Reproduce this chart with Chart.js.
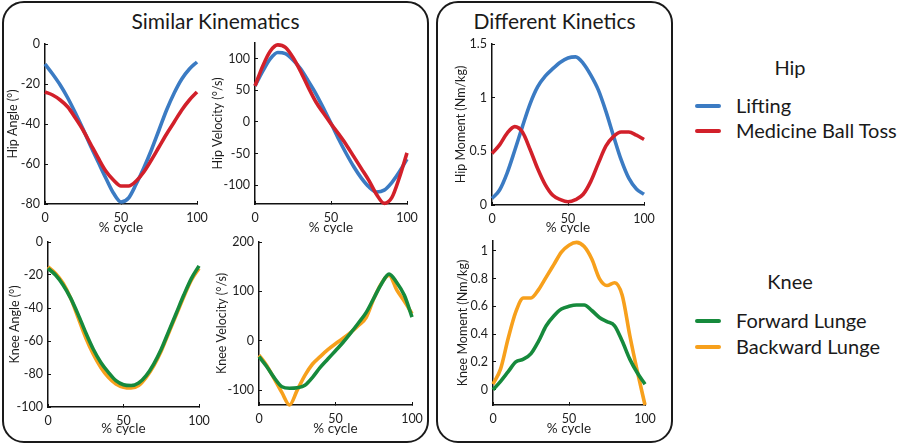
<!DOCTYPE html>
<html>
<head>
<meta charset="utf-8">
<script src="https://cdn.jsdelivr.net/npm/chart.js@4.4.0/dist/chart.umd.min.js"></script>
<style>
    body { margin: 0; width: 900px; height: 444px; position: relative; overflow: hidden; background: #fff; font-family: Lato, sans-serif; color: #1a1a1a; }
    .box { position: absolute; border: 2px solid #1a1a1a; border-radius: 22px; box-sizing: border-box; }
    .title { position: absolute; font-size: 21px; line-height: 26px; text-align: center; }
    canvas { position: absolute; }
    .leg-head { position: absolute; font-size: 20px; line-height: 24px; text-align: center; width: 120px; }
    .leg-line { position: absolute; width: 26px; height: 4px; border-radius: 2px; }
    .leg-text { position: absolute; font-size: 20px; line-height: 24px; white-space: nowrap; }
</style>
</head>
<body>

<div class="box" style="left:2px; top:1px; width:427px; height:442px;"></div>
<div class="box" style="left:436px; top:1px; width:237px; height:442px;"></div>
<div class="title" style="left:2px; top:8px; width:427px;">Similar Kinematics</div>
<div class="title" style="left:436px; top:8px; width:237px;">Different Kinetics</div>

<div class="leg-head" style="left:730px; top:55px;">Hip</div>
<div class="leg-line" id="leg-lifting" style="left:695px; top:104px;"></div>
<div class="leg-text" style="left:736px; top:93px;">Lifting</div>
<div class="leg-line" id="leg-toss" style="left:695px; top:129px;"></div>
<div class="leg-text" style="left:736px; top:118px;">Medicine Ball Toss</div>

<div class="leg-head" style="left:730px; top:269px;">Knee</div>
<div class="leg-line" id="leg-forward" style="left:695px; top:319px;"></div>
<div class="leg-text" style="left:736px; top:308px;">Forward Lunge</div>
<div class="leg-line" id="leg-backward" style="left:695px; top:345px;"></div>
<div class="leg-text" style="left:736px; top:334px;">Backward Lunge</div>

<canvas id="hip-angle"></canvas>
<canvas id="hip-velocity"></canvas>
<canvas id="knee-angle"></canvas>
<canvas id="knee-velocity"></canvas>
<canvas id="hip-moment"></canvas>
<canvas id="knee-moment"></canvas>

<script>
// % of the movement cycle, one sample every 5%
var pct = [0, 5, 10, 15, 20, 25, 30, 35, 40, 45, 50, 55, 60, 65, 70, 75, 80, 85, 90, 95, 100];
var xTicks = [0, 50, 100];

// hip - lifting vs medicine ball toss
var hipAngleLifting = [-10, -15, -20.5, -27, -34.5, -42.5, -51, -59, -67, -74.5, -79, -77, -70, -62, -53, -43, -33, -24.5, -17.5, -12.5, -9];
var hipAngleToss = [-24, -25.5, -28, -31.5, -37, -43, -50, -57, -63.5, -68, -71, -71, -68.5, -64, -58, -51.5, -45, -39, -33, -28, -24];
var hipVelLifting = [57, 80, 100, 110, 108, 98, 84, 65, 45, 22, -2, -27, -50, -71, -89, -103, -111, -108, -96, -79, -59];
var hipVelToss = [57, 88, 112, 122, 118, 102, 80, 55, 32, 14, -3, -19, -36, -55, -74, -93, -115, -129, -120, -88, -49];
var hipMomLifting = [0.06, 0.14, 0.3, 0.51, 0.73, 0.94, 1.1, 1.2, 1.27, 1.33, 1.37, 1.38, 1.32, 1.21, 1.07, 0.87, 0.64, 0.42, 0.25, 0.15, 0.1];
var hipMomToss = [0.48, 0.56, 0.67, 0.73, 0.68, 0.52, 0.34, 0.19, 0.09, 0.05, 0.03, 0.05, 0.1, 0.22, 0.39, 0.55, 0.64, 0.68, 0.68, 0.65, 0.61];

// knee - forward vs backward lunge
var kneeAngleForward = [-16, -20, -26, -34, -44, -55, -65, -73, -79, -84, -86.5, -87, -85.5, -81, -74, -65, -54, -43, -32, -22, -14.5];
var kneeAngleBackward = [-15, -19, -25, -34, -46, -58, -68, -76, -82, -86, -88, -88.5, -87, -82, -75, -66, -55, -44, -33, -23, -16];
var kneeVelForward = [-32, -52, -75, -93, -96, -95, -90, -74, -54, -37, -20, -3, 16, 36, 57, 86, 115, 135, 118, 92, 48];
var kneeVelBackward = [-29, -50, -77, -105, -130, -100, -70, -47, -32, -18, -6, 5, 17, 31, 47, 85, 116, 133, 103, 80, 55];
var kneeMomForward = [0, 0.06, 0.13, 0.2, 0.22, 0.26, 0.35, 0.46, 0.53, 0.58, 0.6, 0.61, 0.61, 0.57, 0.52, 0.49, 0.46, 0.35, 0.22, 0.12, 0.04];
var kneeMomBackward = [0.04, 0.15, 0.37, 0.56, 0.66, 0.66, 0.72, 0.81, 0.9, 0.99, 1.04, 1.06, 1.03, 0.94, 0.8, 0.75, 0.77, 0.68, 0.39, 0.13, -0.11];

// y tick labels
var hipAngleTicks = [-80, -60, -40, -20, 0];
var hipVelTicks = [-100, -50, 0, 50, 100];
var hipMomTicks = [0, 0.5, 1, 1.5];
var kneeAngleTicks = [-100, -80, -60, -40, -20, 0];
var kneeVelTicks = [-100, 0, 100, 200];
var kneeMomTicks = [0, 0.2, 0.4, 0.6, 0.8, 1];

var BLUE = '#3b7bc3';
var RED = '#d2202a';
var GREEN = '#168a3c';
var ORANGE = '#f7a01c';

document.getElementById('leg-lifting').style.background = BLUE;
document.getElementById('leg-toss').style.background = RED;
document.getElementById('leg-forward').style.background = GREEN;
document.getElementById('leg-backward').style.background = ORANGE;

Chart.defaults.font.family = 'Lato, sans-serif';
Chart.defaults.color = '#1e1e1e';

function toPoints(values) {
    var pts = [];
    for (var i = 0; i < pct.length; i++) {
        pts.push({x: pct[i], y: values[i]});
    }
    return pts;
}

function line(values, color) {
    return {
        data: toPoints(values),
        borderColor: color,
        borderWidth: 3.6,
        pointRadius: 0,
        fill: false,
        cubicInterpolationMode: 'monotone',
        clip: 4
    };
}

// small inward tick marks, matlab style
var tickGrid = {display: true, drawOnChartArea: false, drawTicks: true, tickLength: -3, color: '#111', lineWidth: 1};

// box = [canvasLeft, areaLeft, areaTop, areaRight, areaBottom, canvasBottom]
function makeChart(id, box, yTitle, yMin, yMax, yTicks, datasets) {
    // big enough that the tick labels never push the plot area in
    var padTop = 24, padRight = 24;
    var canvas = document.getElementById(id);
    var top = box[2] - padTop;
    canvas.width = box[3] - box[0] + padRight;
    canvas.height = box[5] - top;
    canvas.style.left = box[0] + 'px';
    canvas.style.top = top + 'px';
    var yw = box[1] - box[0];
    var xh = box[5] - box[4];

    new Chart(canvas, {
        type: 'line',
        data: {datasets: datasets},
        options: {
            responsive: false,
            animation: false,
            layout: {padding: {top: padTop, right: padRight, left: 0, bottom: 0}},
            plugins: {legend: {display: false}, tooltip: {enabled: false}},
            scales: {
                x: {
                    type: 'linear',
                    min: 0,
                    max: 100,
                    afterBuildTicks: function(scale) {
                        scale.ticks = xTicks.map(function(v) { return {value: v}; });
                    },
                    afterFit: function(scale) { scale.height = xh; },
                    grid: tickGrid,
                    border: {display: true, color: '#111', width: 1.5},
                    ticks: {font: {size: 12.5}, padding: 9, maxRotation: 0, callback: function(v) { return String(v); }},
                    title: {display: true, text: '% cycle', font: {size: 13.5}, padding: 0}
                },
                y: {
                    min: yMin,
                    max: yMax,
                    afterBuildTicks: function(scale) {
                        scale.ticks = yTicks.map(function(v) { return {value: v}; });
                    },
                    afterFit: function(scale) { scale.width = yw; },
                    grid: tickGrid,
                    border: {display: true, color: '#111', width: 1.5},
                    ticks: {font: {size: 12.5}, padding: 8, callback: function(v) { return String(v); }},
                    title: {display: true, text: yTitle, font: {size: 12.5}, padding: 0}
                }
            }
        }
    });
}

makeChart('hip-angle', [5, 45, 44, 197, 204, 236], 'Hip Angle (°)', -80, 0, hipAngleTicks,
    [line(hipAngleToss, RED), line(hipAngleLifting, BLUE)]);
makeChart('hip-velocity', [210, 255, 43, 407, 204, 236], 'Hip Velocity (°/s)', -130, 125, hipVelTicks,
    [line(hipVelToss, RED), line(hipVelLifting, BLUE)]);
makeChart('knee-angle', [7, 48, 242, 199, 407, 437], 'Knee Angle (°)', -100, 0, kneeAngleTicks,
    [line(kneeAngleForward, GREEN), line(kneeAngleBackward, ORANGE)]);
makeChart('knee-velocity', [214, 259, 242, 412, 405, 437], 'Knee Velocity (°/s)', -130, 200, kneeVelTicks,
    [line(kneeVelForward, GREEN), line(kneeVelBackward, ORANGE)]);
makeChart('hip-moment', [453, 492, 44, 644, 205, 236], 'Hip Moment (Nm/kg)', 0, 1.5, hipMomTicks,
    [line(hipMomToss, RED), line(hipMomLifting, BLUE)]);
makeChart('knee-moment', [455, 493, 241, 645, 405, 437], 'Knee Moment (Nm/kg)', -0.11, 1.07, kneeMomTicks,
    [line(kneeMomForward, GREEN), line(kneeMomBackward, ORANGE)]);
</script>
</body>
</html>
